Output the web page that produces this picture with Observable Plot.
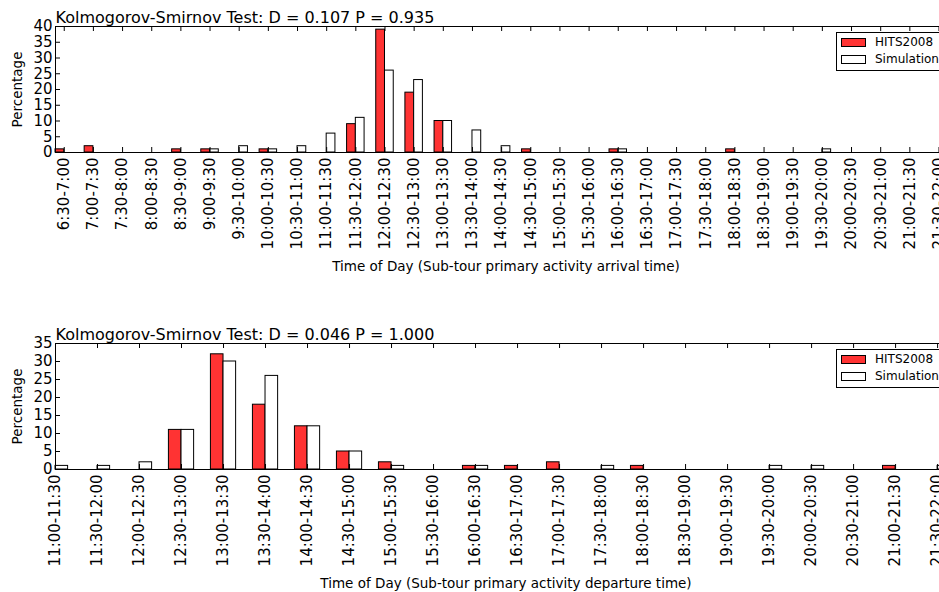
<!DOCTYPE html>
<html>
<head>
<meta charset="utf-8">
<script src="https://cdn.jsdelivr.net/npm/d3@7"></script>
<script src="https://cdn.jsdelivr.net/npm/@observablehq/plot@0.6"></script>
<style>
html, body { margin: 0; padding: 0; background: #fff; overflow: hidden; width: 939px; height: 592px; }
#wrap { position: relative; width: 960px; height: 592px; }
.panel { position: absolute; left: 0; }
.panel svg { max-width: none !important; display: block; }
.legend { position: absolute; border: 1px solid #000; background: #fff; font-family: "DejaVu Sans", sans-serif; font-size: 12px; box-sizing: border-box; }
.legend .row { position: absolute; left: 4px; height: 9px; }
.legend .sw { position: absolute; left: 0; top: 0; width: 25px; height: 9px; border: 1px solid #000; box-sizing: border-box; }
.legend .lab { position: absolute; left: 34px; top: -4px; white-space: nowrap; line-height: 17px; }
</style>
</head>
<body>
<div id="wrap"></div>
<script>
// ---- data ----
const arrivalLabels = ["6:30-7:00","7:00-7:30","7:30-8:00","8:00-8:30","8:30-9:00","9:00-9:30","9:30-10:00","10:00-10:30","10:30-11:00","11:00-11:30","11:30-12:00","12:00-12:30","12:30-13:00","13:00-13:30","13:30-14:00","14:00-14:30","14:30-15:00","15:00-15:30","15:30-16:00","16:00-16:30","16:30-17:00","17:00-17:30","17:30-18:00","18:00-18:30","18:30-19:00","19:00-19:30","19:30-20:00","20:00-20:30","20:30-21:00","21:00-21:30","21:30-22:00"];
const arrivalHITS = [1,2,0,0,1,1,0,1,0,0,9,39,19,10,0,0,1,0,0,1,0,0,0,1,0,0,0,0,0,0,0];
const arrivalSim  = [0,0,0,0,0,1,2,1,2,6,11,26,23,10,7,2,0,0,0,1,0,0,0,0,0,0,1,0,0,0,0];

const departureLabels = ["11:00-11:30","11:30-12:00","12:00-12:30","12:30-13:00","13:00-13:30","13:30-14:00","14:00-14:30","14:30-15:00","15:00-15:30","15:30-16:00","16:00-16:30","16:30-17:00","17:00-17:30","17:30-18:00","18:00-18:30","18:30-19:00","19:00-19:30","19:30-20:00","20:00-20:30","20:30-21:00","21:00-21:30","21:30-22:00"];
const departureHITS = [0,0,0,11,32,18,12,5,2,0,1,1,2,0,1,0,0,0,0,0,1,0];
const departureSim  = [1,1,2,11,30,26,12,5,1,0,1,0,0,1,0,0,0,1,1,0,0,1];

const seriesNames = ["HITS2008", "Simulation"];
const titles = ["Kolmogorov-Smirnov Test: D = 0.107 P = 0.935", "Kolmogorov-Smirnov Test: D = 0.046 P = 1.000"];
const xLabels = ["Time of Day (Sub-tour primary activity arrival time)", "Time of Day (Sub-tour primary activity departure time)"];
const yLabel = "Percentage";
const yTicksTop = [0,5,10,15,20,25,30,35,40];
const yTicksBottom = [0,5,10,15,20,25,30,35];

const RED = "#ff3333";
const FONT = "DejaVu Sans, sans-serif";

function panel({labels, hits, sim, title, xlabel, yTicks, xDomain, height, marginTop, marginBottom}) {
  const rows = labels.map((l, i) => ({i, label: l, hits: hits[i], sim: sim[i]}));
  const idx = labels.map((_, i) => i);
  const frameH = height - marginTop - marginBottom;
  const frameW = 960 - 55 - 4;
  const yMax = yTicks[yTicks.length - 1];
  return Plot.plot({
    width: 960, height, marginLeft: 55, marginRight: 4, marginTop, marginBottom,
    style: {fontFamily: FONT, fontSize: "15px", background: "white", color: "black", maxWidth: "none", overflow: "visible"},
    x: {type: "linear", domain: xDomain, axis: null},
    y: {domain: [0, yMax], axis: null},
    marks: [
      Plot.rect(rows, {x1: d => d.i - 0.3, x2: d => d.i, y1: 0, y2: "hits", fill: RED, stroke: "black", strokeWidth: 1}),
      Plot.rect(rows, {x1: d => d.i, x2: d => d.i + 0.3, y1: 0, y2: "sim", fill: "white", stroke: "black", strokeWidth: 1}),
      // inward tick marks
      Plot.ruleX(idx, {x: d => d, insetBottom: frameH - 5, stroke: "black"}),
      Plot.ruleX(idx, {x: d => d, insetTop: frameH - 5, stroke: "black"}),
      Plot.ruleY(yTicks, {y: d => d, insetRight: frameW - 5, stroke: "black"}),
      Plot.ruleY(yTicks, {y: d => d, insetLeft: frameW - 5, stroke: "black"}),
      Plot.frame({stroke: "black", strokeWidth: 1}),
      Plot.axisY({ticks: yTicks, tickSize: 0, tickPadding: 3, label: null, fontSize: 15}),
      Plot.axisX({ticks: idx, tickFormat: i => labels[i], tickRotate: -90, tickSize: 0, tickPadding: 5, label: null, fontSize: 15}),
      Plot.text([title], {frameAnchor: "top-left", dy: -4, textAnchor: "start", lineAnchor: "bottom", fontSize: 16}),
      Plot.text([yLabel], {frameAnchor: "left", dx: -38, rotate: -90, textAnchor: "middle", lineAnchor: "middle", fontSize: 13.5}),
      Plot.text([xlabel], {frameAnchor: "bottom", dy: 114, textAnchor: "middle", lineAnchor: "middle", fontSize: 13.5})
    ]
  });
}

function legend(top) {
  const box = document.createElement("div");
  box.className = "legend";
  box.style.left = "836px";
  box.style.top = top + "px";
  box.style.width = "115px";
  box.style.height = "39px";
  seriesNames.forEach((name, k) => {
    const row = document.createElement("div");
    row.className = "row";
    row.style.top = (5 + k * 17.7) + "px";
    const sw = document.createElement("div");
    sw.className = "sw";
    sw.style.background = k === 0 ? RED : "white";
    const lab = document.createElement("div");
    lab.className = "lab";
    lab.textContent = name;
    row.appendChild(sw); row.appendChild(lab);
    box.appendChild(row);
  });
  return box;
}

const wrap = document.getElementById("wrap");

const p1 = document.createElement("div");
p1.className = "panel"; p1.style.top = "0px";
p1.appendChild(panel({labels: arrivalLabels, hits: arrivalHITS, sim: arrivalSim, title: titles[0], xlabel: xLabels[0],
  yTicks: yTicksTop, xDomain: [-0.3, 30.6], height: 300, marginTop: 26, marginBottom: 148}));
wrap.appendChild(p1);

const p2 = document.createElement("div");
p2.className = "panel"; p2.style.top = "300px";
p2.appendChild(panel({labels: departureLabels, hits: departureHITS, sim: departureSim, title: titles[1], xlabel: xLabels[1],
  yTicks: yTicksBottom, xDomain: [0, 21.45], height: 292, marginTop: 43, marginBottom: 123}));
wrap.appendChild(p2);

wrap.appendChild(legend(31.5));
wrap.appendChild(legend(348.5));
</script>
</body>
</html>
